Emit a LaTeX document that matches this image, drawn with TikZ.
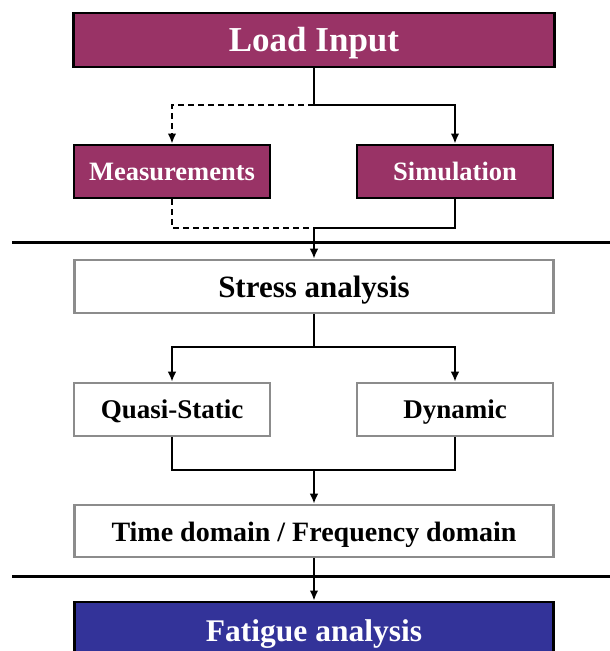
\documentclass[tikz,border=0pt]{standalone}
\usepackage{fontspec}
\setmainfont{Liberation Serif}
\usetikzlibrary{arrows.meta}
\definecolor{maroonbox}{RGB}{153,51,102}
\definecolor{navybox}{RGB}{51,51,153}
\definecolor{graybord}{RGB}{140,140,140}
\begin{document}
\begin{tikzpicture}[x=1pt,y=-1pt,
  darkbox/.style={draw=black,line width=2.8pt,text=white,font=\bfseries,inner sep=0pt,anchor=center,text depth=0pt},
  lightbox/.style={draw=graybord,line width=2.6pt,fill=white,text=black,font=\bfseries,inner sep=0pt,anchor=center,text depth=0pt},
  conn/.style={line width=1.8pt,draw=black},
  arr/.style={conn,-{Latex[length=10pt,width=8.5pt]}},
  dashconn/.style={conn,dash pattern=on 6pt off 4pt},
  sep/.style={line width=3pt,draw=black}]
\useasboundingbox (0,0) rectangle (610,651);
\fill[white] (0,0) rectangle (610,651);
% nodes
\node[darkbox,fill=maroonbox,minimum width=481pt,minimum height=54pt,text height=23pt,font=\bfseries\fontsize{35}{40}\selectfont] (load) at (314,40) {Load Input};
\node[darkbox,fill=maroonbox,minimum width=196pt,minimum height=53pt,text height=17pt,font=\bfseries\fontsize{26.5}{30}\selectfont] (meas) at (172,171.5) {Measurements};
\node[darkbox,fill=maroonbox,minimum width=196pt,minimum height=53pt,text height=17pt,font=\bfseries\fontsize{26.5}{30}\selectfont] (sim) at (455,171.5) {Simulation};
\node[lightbox,minimum width=479pt,minimum height=53pt,text height=22pt,font=\bfseries\fontsize{31}{36}\selectfont] (stress) at (314,286.5) {Stress analysis};
\node[lightbox,minimum width=196pt,minimum height=53pt,text height=17pt,font=\bfseries\fontsize{27}{30}\selectfont] (qs) at (172,409.5) {Quasi-Static};
\node[lightbox,minimum width=196pt,minimum height=53pt,text height=17pt,font=\bfseries\fontsize{27}{30}\selectfont] (dyn) at (455,409.5) {Dynamic};
\node[lightbox,minimum width=479pt,minimum height=52pt,text height=20pt,font=\bfseries\fontsize{28}{32}\selectfont] (time) at (314,531) {Time domain / Frequency domain};
\node[darkbox,fill=navybox,minimum width=479pt,minimum height=60pt,text height=18pt,font=\bfseries\fontsize{31.5}{36}\selectfont] (fat) at (314,632) {Fatigue analysis};
% coordinates
\coordinate (s1) at (314,105);
\coordinate (j1) at (314,228);
\coordinate (s2) at (314,347);
\coordinate (j2) at (314,470);
\coordinate (l1a) at (12,242);
\coordinate (l1b) at (612,242);
\coordinate (l2a) at (12,576);
\coordinate (l2b) at (612,576);
% separators
\draw[sep] (l1a) -- (l1b);
\draw[sep] (l2a) -- (l2b);
% connectors
\draw[conn] (load.south) -- (s1);
\draw[dashconn,-{Latex[length=10pt,width=8.5pt]}] (s1) -| (meas.north);
\draw[arr] (s1) -| (sim.north);
\draw[dashconn] (meas.south) |- (j1);
\draw[conn] (sim.south) |- (j1);
\draw[arr] (j1) -- (stress.north);
\draw[conn] (stress.south) -- (s2);
\draw[arr] (s2) -| (qs.north);
\draw[arr] (s2) -| (dyn.north);
\draw[conn] (qs.south) |- (j2);
\draw[conn] (dyn.south) |- (j2);
\draw[arr] (j2) -- (time.north);
\draw[arr] (time.south) -- (fat.north);
\end{tikzpicture}
\end{document}
